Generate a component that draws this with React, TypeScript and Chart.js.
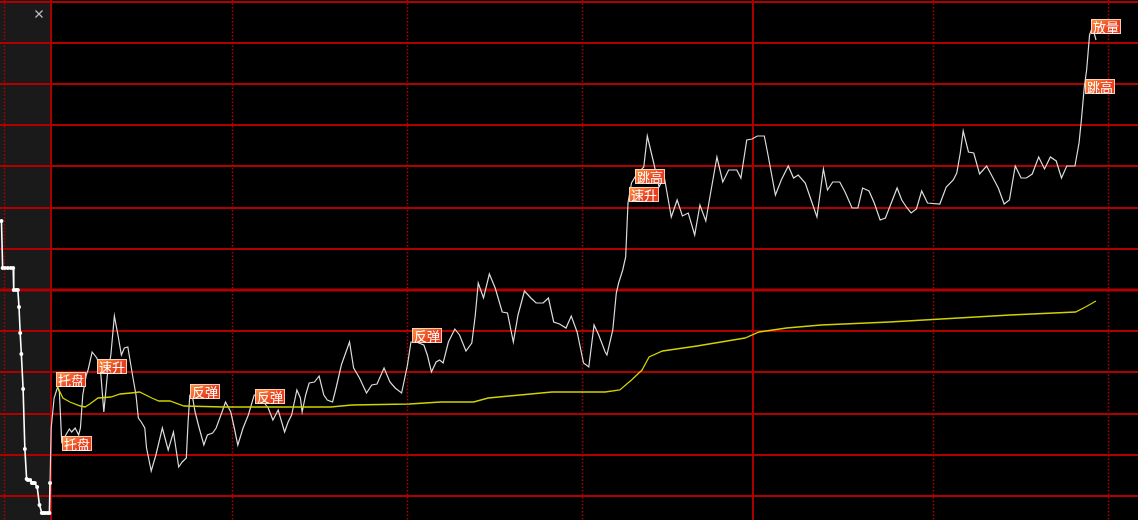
import React, { useEffect, useRef } from "react";
import { Chart, registerables } from "chart.js";

Chart.register(...registerables);

// ---- call-auction (集合竞价) trace: axis minutes relative to 9:30, price in ticks
const auctionMinutes = [-8.3, -8.1, -7.7, -7.2, -6.7, -6.3, -6.2, -5.8, -5.5, -5.3, -5.1, -4.9, -4.6, -4.3, -4.0, -3.8, -3.4, -3.1, -2.9, -2.6, -2.2, -1.8, -1.4, -1.1, -0.8, -0.4, -0.1, 0.0];
const auctionPrices = [299, 252, 252, 252, 252, 252, 230, 230, 230, 213, 187, 166, 131, 71, 41, 40, 40, 37, 37, 37, 33, 15, 7, 7, 7, 7, 7, 37];

// ---- intraday price line
const tradeMinutes = [
  0.2, 0.7, 1.3, 1.6, 2.0, 2.5, 3.3, 3.7, 4.3, 4.9,
  5.2, 5.6, 6.2, 6.5, 7.2, 8.0, 8.6, 9.2, 9.8, 10.4,
  11.0, 11.7, 12.2, 12.7, 13.3, 14.1, 14.7, 15.1, 15.6, 16.2,
  16.5, 17.3, 18.1, 19.2, 20.2, 21.1, 22.0, 22.6, 23.3, 23.6,
  23.9, 24.3, 24.8, 25.5, 26.3, 26.9, 27.8, 28.4, 29.4, 30.0,
  30.9, 31.5, 32.1, 33.0, 33.9, 34.9, 35.8, 36.5, 37.3, 38.1,
  39.0, 40.1, 40.7, 41.3, 42.2, 42.8, 43.1, 43.7, 44.3, 45.2,
  46.0, 46.8, 47.4, 48.3, 48.9, 49.8, 51.2, 51.9, 52.9, 54.1,
  55.0, 55.9, 57.1, 58.1, 59.0, 60.1, 60.5, 61.1, 61.7, 62.6,
  63.9, 64.5, 65.2, 66.0, 66.6, 67.2, 68.1, 69.2, 70.0, 71.1,
  72.1, 72.7, 73.2, 74.1, 75.1, 76.1, 77.3, 78.2, 79.2, 80.0,
  81.1, 82.2, 83.1, 84.3, 85.2, 86.1, 87.1, 88.2, 89.1, 90.1,
  91.2, 92.1, 93.0, 93.8, 94.9, 95.2, 96.2, 96.8, 97.2, 97.9,
  98.4, 98.8, 99.4, 100.2, 101.5, 102.1, 103.2, 104.1, 105.0, 106.2,
  107.2, 108.1, 109.1, 110.2, 111.1, 112.1, 112.8, 114.0, 115.0, 116.0,
  117.4, 118.1, 119.1, 120.0, 120.9, 122.1, 122.8, 124.0, 125.0, 126.2,
  127.1, 127.9, 129.1, 130.1, 131.1, 132.2, 132.9, 133.8, 135.0, 135.9,
  137.1, 138.1, 138.9, 140.0, 140.9, 141.9, 142.8, 143.8, 144.8, 145.6,
  146.5, 147.2, 148.1, 149.0, 150.0, 152.1, 153.2, 154.4, 155.0, 155.6,
  156.1, 157.0, 157.9, 158.9, 160.1, 161.2, 162.1, 163.1, 164.0, 165.0,
  166.0, 166.9, 167.9, 169.0, 170.0, 171.0, 172.0, 172.9, 173.8, 175.2,
  175.9, 176.3, 176.8, 177.2, 177.7, 178.2, 178.8,
];
const tradePrices = [
  92, 122, 133, 128, 78, 83, 91, 88, 92, 85,
  92, 125, 145, 150, 168, 162, 152, 108, 145, 165,
  204, 182, 165, 172, 173, 145, 125, 102, 98, 92,
  72, 49, 65, 92, 70, 88, 53, 58, 62, 98,
  125, 125, 108, 92, 75, 85, 87, 92, 108, 118,
  108, 92, 75, 92, 105, 125, 125, 118, 112, 100,
  110, 88, 98, 105, 130, 122, 108, 125, 137, 138,
  144, 125, 120, 118, 132, 155, 178, 152, 142, 127,
  135, 136, 152, 138, 132, 127, 138, 155, 178, 178,
  175, 165, 148, 158, 160, 157, 178, 191, 185, 169,
  177, 205, 237, 222, 246, 232, 208, 207, 178, 205,
  229, 222, 217, 217, 222, 198, 196, 192, 204, 188,
  157, 153, 195, 185, 168, 165, 190, 227, 237, 250,
  263, 317, 337, 345, 353, 384, 357, 333, 343, 303,
  320, 304, 307, 285, 315, 299, 323, 363, 338, 350,
  350, 342, 380, 381, 384, 384, 363, 325, 340, 354,
  342, 345, 337, 320, 303, 351, 330, 338, 338, 328,
  312, 312, 332, 329, 317, 300, 302, 317, 332, 320,
  312, 307, 311, 329, 317, 316, 333, 340, 347, 367,
  389, 368, 367, 346, 354, 342, 332, 316, 320, 354,
  342, 342, 346, 363, 351, 363, 359, 342, 354, 354,
  377, 400, 433, 450, 485, 493, 480,
];

// ---- average price (均价) line
const avgMinutes = [1.3, 2.2, 3.4, 5.2, 6.0, 6.8, 8.2, 10.4, 12.0, 13.8, 15.3, 17.4, 18.6, 20.5, 22.9, 29.7, 48.0, 51.6, 61.4, 66.8, 72.4, 74.9, 78.5, 85.8, 94.9, 97.4, 99.4, 101.2, 102.4, 104.7, 110.6, 118.8, 121.2, 125.9, 131.8, 143.5, 155.3, 164.1, 175.3, 177.0, 178.8];
const avgPrices = [133, 122, 118, 114, 113, 116, 122, 123, 126, 127, 128, 122, 119, 119, 114, 113, 113, 115, 116, 118, 118, 122, 124, 128, 128, 130, 140, 150, 163, 169, 174, 182, 188, 192, 195, 198, 202, 205, 208, 213, 219];

// ---- signal tags
const signalTexts = ["托盘", "托盘", "速升", "反弹", "反弹", "反弹", "速升", "跳高", "跳高", "放量"];
const signalMinutes = [1.0, 2.0, 8.0, 23.9, 35.0, 61.9, 99.0, 100.0, 176.9, 177.9];
const signalPrices = [148, 84, 161, 136, 131, 192, 333, 351, 441, 501];

// ---- axis ranges and grid
const xMin = -8.55;
const xMax = 185.98;
const yMin = 0;
const yMax = 520;
const priceGridBase = 24;
const priceGridStep = 41.2;
const priceGridCount = 13;
const priceGridStrongIndex = 5;
const solidTimeLines = [0, 120];
const dottedTimeLines = [-7.86, 31.1, 61.0, 90.9, 150.9, 180.9];

const bgPlugin = {
  id: "bgGrid",
  beforeDatasetsDraw(chart: any) {
    const { ctx, chartArea, scales } = chart;
    const xs = scales.x;
    const ys = scales.y;
    ctx.save();
    ctx.fillStyle = "#000000";
    ctx.fillRect(0, 0, chart.width, chart.height);
    // auction zone
    const x0 = xs.getPixelForValue(xMin);
    const x1 = xs.getPixelForValue(0);
    ctx.fillStyle = "#1a1a1a";
    ctx.fillRect(x0, chartArea.top, x1 - x0, chartArea.bottom - chartArea.top);

    // horizontal grid
    for (let k = 0; k < priceGridCount; k++) {
      const y = Math.round(ys.getPixelForValue(priceGridBase + k * priceGridStep));
      ctx.beginPath();
      ctx.strokeStyle = "#b00000";
      ctx.lineWidth = k === priceGridStrongIndex ? 3 : 2;
      ctx.moveTo(chartArea.left, y);
      ctx.lineTo(chartArea.right, y);
      ctx.stroke();
    }
    // dotted vertical
    ctx.setLineDash([1.5, 2]);
    ctx.lineWidth = 1.5;
    ctx.strokeStyle = "#b00000";
    dottedTimeLines.forEach((m) => {
      const x = Math.round(xs.getPixelForValue(m)) + 0.5;
      ctx.beginPath();
      ctx.moveTo(x, chartArea.top);
      ctx.lineTo(x, chartArea.bottom);
      ctx.stroke();
    });
    ctx.setLineDash([]);
    // solid vertical
    ctx.lineWidth = 2;
    ctx.strokeStyle = "#a80000";
    solidTimeLines.forEach((m) => {
      const x = Math.round(xs.getPixelForValue(m)) + 1;
      ctx.beginPath();
      ctx.moveTo(x, chartArea.top);
      ctx.lineTo(x, chartArea.bottom);
      ctx.stroke();
    });
    // close icon in auction zone
    ctx.strokeStyle = "#c0c0c0";
    ctx.lineWidth = 1.2;
    const cx = chartArea.left + 39;
    const cy = chartArea.top + 14;
    ctx.beginPath();
    ctx.moveTo(cx - 3.5, cy - 3.5);
    ctx.lineTo(cx + 3.5, cy + 3.5);
    ctx.moveTo(cx + 3.5, cy - 3.5);
    ctx.lineTo(cx - 3.5, cy + 3.5);
    ctx.stroke();
    ctx.restore();
  },
};

const tagPlugin = {
  id: "signalTags",
  afterDatasetsDraw(chart: any) {
    const { ctx, scales } = chart;
    ctx.save();
    ctx.font = "13px 'Noto Sans CJK SC', sans-serif";
    signalTexts.forEach((t, i) => {
      const x = Math.round(scales.x.getPixelForValue(signalMinutes[i]));
      const y = Math.round(scales.y.getPixelForValue(signalPrices[i]));
      const w = Math.round(ctx.measureText(t).width) + 4;
      const h = 15;
      const g = ctx.createLinearGradient(x, y, x + w * 0.4, y + h);
      g.addColorStop(0, "#ff9a45");
      g.addColorStop(1, "#e8401e");
      ctx.fillStyle = g;
      ctx.fillRect(x, y, w, h);
      ctx.strokeStyle = "rgba(255,225,205,0.85)";
      ctx.lineWidth = 1;
      ctx.strokeRect(x + 0.5, y + 0.5, w - 1, h - 1);
      ctx.fillStyle = "#ffffff";
      ctx.textBaseline = "middle";
      ctx.textAlign = "left";
      ctx.fillText(t, x + 2, y + h / 2 + 0.5);
    });
    ctx.restore();
  },
};

export default function App() {
  const ref = useRef<HTMLCanvasElement | null>(null);

  useEffect(() => {
    if (!ref.current) return;
    const auctionData = auctionMinutes.map((m, i) => ({ x: m, y: auctionPrices[i] }));
    const lastAuction = auctionData[auctionData.length - 1];
    const tradeData = [lastAuction, ...tradeMinutes.map((m, i) => ({ x: m, y: tradePrices[i] }))];
    const avgData = avgMinutes.map((m, i) => ({ x: m, y: avgPrices[i] }));

    const chart = new Chart(ref.current, {
      type: "line",
      data: {
        datasets: [
          {
            label: "均价",
            data: avgData,
            borderColor: "#d2d200",
            borderWidth: 1.3,
            pointRadius: 0,
            tension: 0,
          },
          {
            label: "价格",
            data: tradeData,
            borderColor: "#dcdcdc",
            borderWidth: 1.2,
            pointRadius: 0,
            tension: 0,
          },
          {
            label: "竞价",
            data: auctionData,
            borderColor: "#ffffff",
            borderWidth: 1.6,
            pointRadius: 2,
            pointBackgroundColor: "#ffffff",
            pointBorderWidth: 0,
            tension: 0,
          },
        ],
      },
      options: {
        responsive: false,
        animation: false,
        devicePixelRatio: 1,
        layout: { padding: 0, autoPadding: false },
        plugins: { legend: { display: false }, tooltip: { enabled: false } },
        scales: {
          x: { type: "linear", display: false, min: xMin, max: xMax },
          y: { type: "linear", display: false, min: yMin, max: yMax },
        },
      },
      plugins: [bgPlugin, tagPlugin],
    } as any);
    return () => chart.destroy();
  }, []);

  return (
    <div style={{ position: "absolute", left: 0, top: 0, width: 1138, height: 520, background: "#000" }}>
      <canvas ref={ref} width={1138} height={520} style={{ display: "block", width: 1138, height: 520 }} />
    </div>
  );
}
